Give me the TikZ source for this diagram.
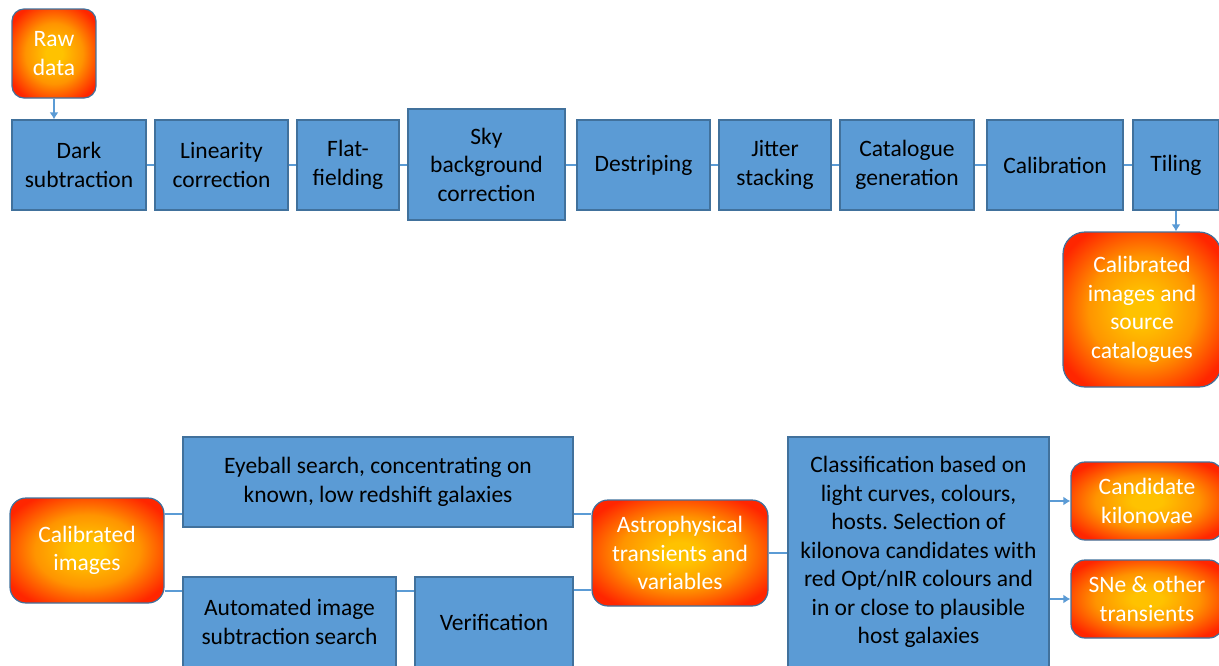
\documentclass[tikz,border=0pt]{standalone}
\usepackage{fontspec}
\setmainfont{Carlito}
\frenchspacing
\usetikzlibrary{arrows.meta,calc,positioning}

\definecolor{boxblue}{HTML}{5B9BD5}
\definecolor{boxedge}{HTML}{41719C}
\definecolor{glowin}{HTML}{FFC200}
\definecolor{glowmid}{HTML}{FF9400}
\definecolor{glowout}{HTML}{FF2600}

% path box maps to the central 50bp square: edges at 25bp
\pgfdeclareradialshading{glow}{\pgfpoint{0bp}{0bp}}{%
  color(0bp)=(glowin); color(5bp)=(glowin); color(17bp)=(glowmid);
  color(30bp)=(glowout); color(50bp)=(glowout)}

\tikzset{
  stage/.style={draw=boxedge, fill=boxblue, line width=1.2pt, inner sep=0pt,
    align=center, text=black},
  product/.style={draw=boxedge, line width=1.2pt, shading=glow, rounded corners=14pt,
    inner sep=0pt, align=center, text=white},
  link/.style={draw=boxblue, line width=2pt},
  arr/.style={link, -{Latex[length=7pt,width=9pt]}},
  every node/.style={font=\fontsize{23.5}{28.5}\selectfont}
}

\begin{document}
\begin{tikzpicture}[x=1pt,y=-1pt]
\useasboundingbox (0,0) rectangle (1219,665);

% reduction pipeline
\node[product, minimum width=84pt, minimum height=89pt, rounded corners=12pt] (raw) at (54,53.5) {Raw\\data};
\node[stage, minimum width=134pt, minimum height=90pt] (dark) at (79,165) {Dark\\subtraction};
\node[stage, minimum width=133pt, minimum height=90pt] (lin) at (221.5,165) {Linearity\\correction};
\node[stage, minimum width=102pt, minimum height=90pt] (flat) at (348,165) {Flat-\\fielding};
\node[stage, minimum width=157pt, minimum height=111pt] (sky) at (486.5,164.5) {Sky\\background\\correction};
\node[stage, minimum width=133pt, minimum height=90pt] (destripe) at (643.5,165) {Destriping};
\node[stage, minimum width=112pt, minimum height=90pt] (jitter) at (775,165) {Jitter\\stacking};
\node[stage, minimum width=134pt, minimum height=90pt] (catgen) at (907,165) {Catalogue\\generation};
\node[stage, minimum width=136pt, minimum height=90pt] (calib) at (1055,165) {Calibration};
\node[stage, minimum width=86pt, minimum height=90pt] (tiling) at (1176,165) {Tiling};
\node[product, minimum width=158pt, minimum height=155pt, rounded corners=22pt] (calcat) at (1142,309.5) {Calibrated\\images and\\source\\catalogues};

\draw[arr] (raw.south) -- (raw.south |- dark.north);
\foreach \a/\b in {dark/lin, lin/flat, flat/sky, sky/destripe, destripe/jitter, jitter/catgen, catgen/calib, calib/tiling}
  \draw[link] (\a.east |- dark) -- (\b.west |- dark);
\draw[arr] (tiling.south) -- (tiling.south |- calcat.north);

% transient search
\node[product, minimum width=154pt, minimum height=105pt, rounded corners=16pt] (calimg) at (87,550.5) {Calibrated\\images};
\node[stage, minimum width=390pt, minimum height=90pt] (eyeball) at (378,482) {Eyeball search, concentrating on\\known, low redshift galaxies};
\node[stage, minimum width=213pt, minimum height=90pt] (autosub) at (289.5,622) {Automated image\\subtraction search};
\node[stage, minimum width=158pt, minimum height=90pt] (verif) at (494,622) {Verification};
\node[product, minimum width=176pt, minimum height=106pt, rounded corners=16pt] (astro) at (680,553) {Astrophysical\\transients and\\variables};
\node[stage, minimum width=261pt, minimum height=230pt] (classif) at (918.5,552) {Classification based on\\light curves, colours,\\hosts. Selection of\\kilonova candidates with\\red Opt/nIR colours and\\in or close to plausible\\host galaxies};
\node[product, minimum width=152pt, minimum height=78pt] (cand) at (1147,501) {Candidate\\kilonovae};
\node[product, minimum width=152pt, minimum height=78pt] (sne) at (1147,599) {SNe \& other\\transients};

\draw[link] ($(calimg.east)+(0,-36.5)$) -- ($(eyeball.west)+(0,32)$);
\draw[link] ($(calimg.east)+(0,40.5)$) -- ($(autosub.west)+(0,-31)$);
\draw[link] ($(autosub.east)+(0,-31)$) -- ($(verif.west)+(0,-31)$);
\draw[link] ($(eyeball.east)+(0,32)$) -- ($(astro.west)+(0,-39)$);
\draw[link] ($(verif.east)+(0,-32)$) -- ($(astro.west)+(0,37)$);
\draw[link] (astro.east) -- (astro.east -| classif.west);
\draw[arr] (classif.east |- cand) -- (cand.west);
\draw[arr] (classif.east |- sne) -- (sne.west);
\end{tikzpicture}
\end{document}
